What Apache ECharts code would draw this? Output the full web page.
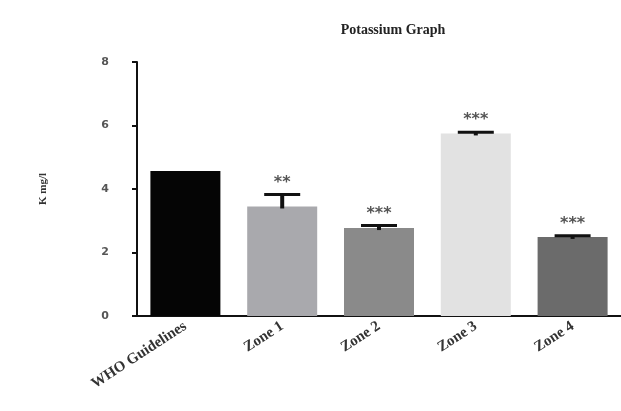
<!DOCTYPE html>
<html lang="en">
<head>
    <meta charset="UTF-8">
    <title>Potassium Graph</title>
    <style>
        html, body { margin: 0; padding: 0; background: #fff; }
    </style>
</head>
<body>
    <div id="chart" style="width:621px;height:411px;"></div>
</body>
<script src="https://cdn.jsdelivr.net/npm/echarts@6/dist/echarts.min.js"></script>
<script>
    var categories = ['WHO Guidelines', 'Zone 1', 'Zone 2', 'Zone 3', 'Zone 4'];
    var means = [4.57, 3.45, 2.77, 5.75, 2.49];
    var sd = [0, 0.38, 0.08, 0.04, 0.04];
    var stars = ['', '**', '***', '***', '***'];
    var barColors = ['#050505', '#a9a9ad', '#8a8a8a', '#e2e2e2', '#6b6b6b'];
    var yTicks = [0, 2, 4, 6, 8];

    var serif = '"Liberation Serif", "DejaVu Serif", serif';

    var errData = means.map(function (m, i) {
        return [i, m, m + sd[i], stars[i]];
    });

    var option = {
        animation: false,
        title: {
            text: 'Potassium Graph',
            left: 388,
            top: 18,
            textAlign: 'center',
            textStyle: { fontFamily: serif, fontWeight: 'bold', fontSize: 14, color: '#222' }
        },
        grid: { left: 137, right: 0, top: 62, bottom: 95 },
        xAxis: {
            type: 'category',
            data: categories,
            axisLine: { lineStyle: { color: '#111', width: 2 } },
            axisTick: { alignWithLabel: true, length: 6, lineStyle: { color: '#111', width: 2 } },
            axisLabel: {
                rotate: 33,
                fontFamily: serif,
                fontWeight: 'bold',
                fontSize: 15,
                color: '#333',
                margin: 9
            }
        },
        yAxis: {
            type: 'value',
            min: 0,
            max: 8,
            interval: 2,
            name: 'K mg/l',
            nameLocation: 'middle',
            nameGap: 88,
            nameTextStyle: { fontFamily: serif, fontWeight: 'bold', fontSize: 11, color: '#333' },
            splitLine: { show: false },
            axisLine: { show: true, lineStyle: { color: '#111', width: 2 } },
            axisTick: { show: true, length: 5, lineStyle: { color: '#111', width: 2 } },
            axisLabel: {
                fontFamily: '"DejaVu Sans", sans-serif',
                fontWeight: 'bold',
                fontSize: 11,
                color: '#555',
                margin: 28,
                formatter: function (v) { return yTicks.indexOf(v) >= 0 ? String(v) : ''; }
            }
        },
        series: [
            {
                type: 'bar',
                barWidth: 70,
                data: means.map(function (m, i) {
                    return { value: m, itemStyle: { color: barColors[i] } };
                })
            },
            {
                type: 'custom',
                z: 5,
                data: errData,
                renderItem: function (params, api) {
                    var i = api.value(0);
                    var base = api.coord([i, api.value(1)]);
                    var top = api.coord([i, api.value(2)]);
                    var children = [];
                    if (api.value(2) > api.value(1)) {
                        children.push({
                            type: 'line',
                            shape: { x1: top[0], y1: base[1] + 2, x2: top[0], y2: top[1] },
                            style: { stroke: '#111', lineWidth: 4 }
                        });
                        children.push({
                            type: 'line',
                            shape: { x1: top[0] - 18, y1: top[1], x2: top[0] + 18, y2: top[1] },
                            style: { stroke: '#111', lineWidth: 3 }
                        });
                    }
                    var s = stars[i];
                    if (s) {
                        children.push({
                            type: 'text',
                            x: top[0],
                            y: top[1] - 12,
                            style: {
                                text: s,
                                fill: '#555',
                                font: 'bold 16px "DejaVu Sans", sans-serif',
                                align: 'center',
                                verticalAlign: 'middle'
                            }
                        });
                    }
                    return { type: 'group', children: children };
                }
            }
        ]
    };

    var chart = echarts.init(document.getElementById('chart'));
    chart.setOption(option);
</script>
</html>
